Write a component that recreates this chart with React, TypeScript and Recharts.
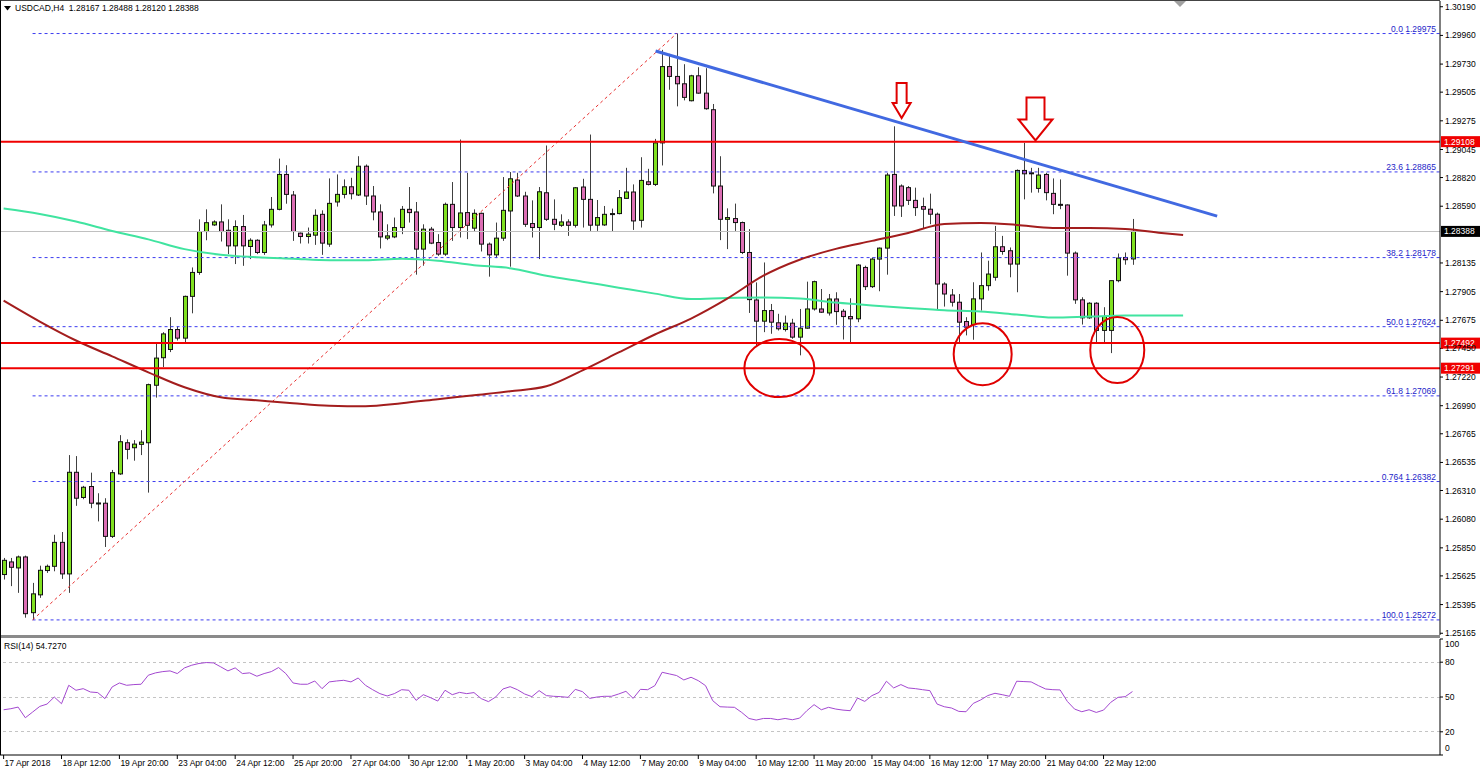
import React from "react";
import {
  ComposedChart,
  Bar,
  Line,
  XAxis,
  YAxis,
  ReferenceLine,
  ReferenceDot,
} from "recharts";

const FONT = "'Liberation Sans', Arial, sans-serif";
const SLOTS = 199;
const Y_MIN = 1.25151;
const Y_MAX = 1.30236;
const FIB_BLUE = "#3c3cf0";

// open, high, low, close  (H4 bars, 17 Apr 04:00 .. 23 May 04:00)
const candles: number[][] = [
  [1.25636, 1.25769, 1.25596, 1.2575], [1.25737, 1.25769, 1.25543, 1.25694], [1.25689, 1.25788, 1.25489, 1.25777],
  [1.25777, 1.25788, 1.2529, 1.25322], [1.2533, 1.25569, 1.25272, 1.25481], [1.25473, 1.25707, 1.25449, 1.2567],
  [1.25668, 1.25716, 1.25649, 1.25702], [1.25702, 1.25955, 1.25662, 1.25894], [1.25894, 1.25977, 1.25601, 1.25641],
  [1.25641, 1.26594, 1.25489, 1.26456], [1.26456, 1.26586, 1.26187, 1.26248], [1.26254, 1.26347, 1.2624, 1.26336],
  [1.26342, 1.26453, 1.26168, 1.26208], [1.26208, 1.26288, 1.26062, 1.2621], [1.26208, 1.26248, 1.25857, 1.25942],
  [1.25942, 1.26475, 1.25929, 1.26453], [1.26443, 1.26754, 1.26435, 1.26701], [1.26693, 1.2672, 1.2656, 1.2664],
  [1.26653, 1.26714, 1.26549, 1.26682], [1.2668, 1.26794, 1.26594, 1.26698], [1.26693, 1.27167, 1.26293, 1.27159],
  [1.27154, 1.27486, 1.27055, 1.27372], [1.27375, 1.2758, 1.273, 1.27566], [1.27441, 1.277, 1.2742, 1.27601],
  [1.27601, 1.27628, 1.27513, 1.27532], [1.27532, 1.27873, 1.27492, 1.27867], [1.27867, 1.28099, 1.27731, 1.28059],
  [1.28059, 1.28485, 1.2804, 1.28387], [1.28387, 1.28565, 1.28317, 1.28458], [1.2844, 1.28477, 1.28432, 1.28464],
  [1.28464, 1.28605, 1.28307, 1.28387], [1.28397, 1.28485, 1.28206, 1.28272], [1.28272, 1.28477, 1.28126, 1.28427],
  [1.28427, 1.2852, 1.28112, 1.28272], [1.28267, 1.28333, 1.28166, 1.28317], [1.28317, 1.28325, 1.28206, 1.28219],
  [1.28219, 1.28472, 1.282, 1.2844], [1.2844, 1.28664, 1.28419, 1.28565], [1.28565, 1.28972, 1.28557, 1.28845],
  [1.28845, 1.28919, 1.2861, 1.28685], [1.2868, 1.28712, 1.28312, 1.28387], [1.28374, 1.28379, 1.28291, 1.28347],
  [1.28347, 1.28419, 1.28291, 1.28366], [1.28358, 1.28565, 1.2828, 1.28517], [1.28525, 1.28557, 1.282, 1.28294],
  [1.28286, 1.28813, 1.28264, 1.28613], [1.28624, 1.28845, 1.28587, 1.28685], [1.28685, 1.28805, 1.28653, 1.28746],
  [1.28746, 1.28818, 1.28645, 1.2869], [1.2868, 1.28991, 1.28672, 1.28911], [1.28911, 1.28925, 1.286, 1.28672],
  [1.28672, 1.28752, 1.28477, 1.28544], [1.28544, 1.28605, 1.28251, 1.28344], [1.28334, 1.28445, 1.28318, 1.28352],
  [1.28344, 1.28499, 1.28334, 1.28419], [1.28419, 1.28592, 1.28366, 1.28565], [1.28565, 1.28744, 1.28459, 1.28539],
  [1.28544, 1.28624, 1.28041, 1.28246], [1.28246, 1.28445, 1.28113, 1.28406], [1.28406, 1.28424, 1.28286, 1.28294],
  [1.28299, 1.28366, 1.28192, 1.28206], [1.28206, 1.28619, 1.28192, 1.28605], [1.28605, 1.28784, 1.28312, 1.28419],
  [1.28419, 1.29125, 1.28339, 1.28536], [1.28539, 1.28858, 1.28326, 1.28437], [1.28414, 1.28565, 1.28384, 1.28533],
  [1.28533, 1.28539, 1.28227, 1.28286], [1.28286, 1.28299, 1.28025, 1.282], [1.282, 1.28459, 1.28174, 1.28334],
  [1.28334, 1.28824, 1.28312, 1.28557], [1.28552, 1.28864, 1.28105, 1.2881], [1.288, 1.28858, 1.28664, 1.28672],
  [1.28672, 1.28706, 1.28424, 1.28445], [1.28451, 1.28637, 1.28339, 1.28419], [1.28419, 1.28744, 1.28166, 1.28706],
  [1.28698, 1.29077, 1.28472, 1.28485], [1.28485, 1.28645, 1.28398, 1.28445], [1.28437, 1.28525, 1.28424, 1.28464],
  [1.28464, 1.28485, 1.28352, 1.28437], [1.28437, 1.28744, 1.28419, 1.28738], [1.28744, 1.2881, 1.28419, 1.28645],
  [1.28645, 1.29165, 1.28392, 1.28438], [1.28438, 1.2864, 1.28392, 1.28499], [1.2844, 1.28592, 1.28432, 1.28525],
  [1.28523, 1.28571, 1.28384, 1.28531], [1.28531, 1.2872, 1.28525, 1.28659], [1.28653, 1.28898, 1.28651, 1.28704],
  [1.28704, 1.28765, 1.284, 1.28472], [1.28477, 1.28983, 1.28419, 1.28797], [1.28786, 1.2889, 1.28757, 1.28765],
  [1.28765, 1.2913, 1.28752, 1.29098], [1.29098, 1.29844, 1.28917, 1.2971], [1.2971, 1.29812, 1.29524, 1.29631],
  [1.29631, 1.29975, 1.29391, 1.29572], [1.29572, 1.29729, 1.29439, 1.29463], [1.29436, 1.29644, 1.29431, 1.29636],
  [1.29636, 1.29705, 1.29492, 1.29497], [1.29497, 1.29697, 1.29364, 1.29372], [1.29364, 1.2941, 1.28693, 1.28752],
  [1.28752, 1.28991, 1.28318, 1.28485], [1.28485, 1.28573, 1.28246, 1.28499], [1.28491, 1.28611, 1.28392, 1.28459],
  [1.28459, 1.28467, 1.28206, 1.28219], [1.28219, 1.28406, 1.27734, 1.27841], [1.27838, 1.27979, 1.2747, 1.27668],
  [1.27668, 1.28139, 1.2758, 1.27753], [1.27753, 1.27806, 1.27567, 1.2766], [1.27655, 1.27727, 1.27593, 1.27607],
  [1.27601, 1.27713, 1.27585, 1.27652], [1.27652, 1.27687, 1.27527, 1.2754], [1.2754, 1.27766, 1.27394, 1.27612],
  [1.27612, 1.27985, 1.27607, 1.27766], [1.27766, 1.27993, 1.27753, 1.27985], [1.27766, 1.27926, 1.27734, 1.2774],
  [1.27734, 1.27886, 1.27713, 1.27846], [1.27846, 1.279, 1.27639, 1.27745], [1.27748, 1.27766, 1.27521, 1.27705],
  [1.27705, 1.27852, 1.27495, 1.27687], [1.27687, 1.28126, 1.2766, 1.28118], [1.28099, 1.28113, 1.27918, 1.27945],
  [1.27945, 1.28179, 1.27934, 1.28166], [1.28166, 1.28259, 1.27908, 1.28254], [1.28254, 1.28858, 1.28041, 1.2884],
  [1.28845, 1.29231, 1.28512, 1.28592], [1.28752, 1.28765, 1.28504, 1.28592], [1.28739, 1.28752, 1.286, 1.28637],
  [1.28637, 1.28739, 1.28512, 1.28579], [1.28587, 1.28659, 1.28414, 1.28566], [1.28566, 1.28691, 1.28446, 1.28526],
  [1.28526, 1.28539, 1.27759, 1.27966], [1.27966, 1.2798, 1.27785, 1.27886], [1.27878, 1.27926, 1.27785, 1.2782],
  [1.2782, 1.27886, 1.27492, 1.2766], [1.27665, 1.277, 1.27554, 1.2762], [1.27641, 1.2798, 1.27519, 1.27847],
  [1.27847, 1.28219, 1.27753, 1.27953], [1.27953, 1.28153, 1.27913, 1.28046], [1.2802, 1.28432, 1.27993, 1.28265],
  [1.28265, 1.28352, 1.28201, 1.28227], [1.28233, 1.28259, 1.2802, 1.28126], [1.28126, 1.28885, 1.279, 1.28877],
  [1.28877, 1.29098, 1.28645, 1.2885], [1.28858, 1.28898, 1.28699, 1.2885], [1.28733, 1.28898, 1.28699, 1.2884],
  [1.28845, 1.28858, 1.28637, 1.28699], [1.28693, 1.28813, 1.28526, 1.28605], [1.28605, 1.28805, 1.28566, 1.286],
  [1.286, 1.28605, 1.28033, 1.28214], [1.28214, 1.28227, 1.27807, 1.27839], [1.27839, 1.2786, 1.27641, 1.27695],
  [1.27695, 1.2782, 1.27687, 1.27812], [1.27812, 1.2782, 1.27492, 1.27594], [1.27594, 1.2778, 1.27492, 1.27705],
  [1.27594, 1.27993, 1.27412, 1.27993], [1.27993, 1.28211, 1.2798, 1.28174], [1.28179, 1.28219, 1.28121, 1.28161],
  [1.28167, 1.28488, 1.2812, 1.28388],
];

// moving averages, read every 5 bars (they run 7 bars past the last candle)
const maIndex = [0, 5, 10, 15, 20, 25, 30, 35, 40, 45, 50, 55, 60, 65, 70, 75, 80, 85, 90, 95, 100, 105, 110, 115, 120, 125, 130, 135, 140, 145, 150, 155, 160, 163];
const maRed = [1.27833, 1.27665, 1.27513, 1.27386, 1.27258, 1.27138, 1.27058, 1.27034, 1.2701, 1.2699, 1.26986, 1.2701, 1.27042, 1.27074, 1.27106, 1.27146, 1.27274, 1.27417, 1.27561, 1.27689, 1.27849, 1.28033, 1.28161, 1.28248, 1.28312, 1.28376, 1.28448, 1.28456, 1.2844, 1.28416, 1.28416, 1.28408, 1.28376, 1.2836];
const maGreen = [1.28572, 1.28528, 1.28468, 1.28392, 1.28324, 1.28246, 1.282, 1.28181, 1.28169, 1.28157, 1.28157, 1.28169, 1.28153, 1.28117, 1.28093, 1.28033, 1.27985, 1.27937, 1.27889, 1.27845, 1.27853, 1.27857, 1.27849, 1.27817, 1.27793, 1.27773, 1.27755, 1.27745, 1.27721, 1.27697, 1.27705, 1.27713, 1.27713, 1.27713];

const rsi = [
  39.0, 39.9, 41.3, 32.1, 37.0, 41.9, 43.9, 50.0, 44.2, 60.1,
  55.8, 57.2, 54.3, 53.8, 48.6, 58.7, 62.1, 60.1, 60.7, 61.0,
  68.8, 70.8, 71.9, 72.5, 70.2, 75.1, 77.4, 78.9, 79.7, 79.4,
  76.0, 72.5, 75.1, 70.2, 70.8, 67.9, 70.2, 71.9, 75.4, 70.2,
  62.1, 61.0, 61.0, 63.8, 57.2, 63.0, 63.8, 64.4, 63.0, 66.4,
  60.1, 56.3, 52.9, 50.9, 52.9, 56.3, 55.8, 47.1, 52.0, 49.4,
  46.5, 55.8, 52.0, 54.0, 52.9, 53.8, 48.6, 46.0, 50.0, 56.9,
  58.9, 56.3, 52.6, 50.3, 55.5, 51.2, 50.6, 50.3, 49.7, 56.6,
  54.6, 48.8, 50.0, 50.6, 50.6, 52.6, 54.9, 48.8, 56.6, 56.3,
  59.8, 71.3, 69.9, 68.5, 64.7, 67.0, 64.1, 59.8, 46.8, 41.6,
  41.3, 41.1, 36.7, 31.5, 30.1, 31.5, 31.5, 30.4, 31.5, 30.4,
  31.8, 38.2, 43.4, 39.0, 41.1, 39.6, 38.7, 38.2, 49.1, 46.2,
  51.2, 54.0, 63.6, 57.8, 60.7, 57.8, 57.2, 56.3, 55.5, 43.9,
  41.6, 40.5, 37.6, 37.3, 44.5, 47.4, 51.2, 53.2, 52.0, 50.6,
  63.6, 63.3, 63.0, 59.8, 56.9, 56.3, 56.1, 46.2, 39.6, 37.3,
  39.0, 36.7, 38.7, 45.4, 49.7, 50.3, 54.7,
];

const priceTicks = [1.3019, 1.2996, 1.2973, 1.29505, 1.29275, 1.29045, 1.2882, 1.2859, 1.28135, 1.27905, 1.27675, 1.2745, 1.2722, 1.2699, 1.26765, 1.26535, 1.2631, 1.2608, 1.2585, 1.25625, 1.25395, 1.25165];
const rsiTicks = [0, 20, 50, 80, 100];
const timeLabels = ["17 Apr 2018", "18 Apr 12:00", "19 Apr 20:00", "23 Apr 04:00", "24 Apr 12:00", "25 Apr 20:00", "27 Apr 04:00", "30 Apr 12:00", "1 May 20:00", "3 May 04:00", "4 May 12:00", "7 May 20:00", "9 May 04:00", "10 May 12:00", "11 May 20:00", "15 May 04:00", "16 May 12:00", "17 May 20:00", "21 May 04:00", "22 May 12:00"];
const timeTicks = timeLabels.map((_, k) => k * 8);

const fibNames = ["0.0", "23.6", "38.2", "50.0", "61.8", "0.764", "100.0"];
const fibLevels = [1.29975, 1.28865, 1.28178, 1.27624, 1.27069, 1.26382, 1.25272];
const fibFrom = 4;
const swingLow = { i: 4, p: 1.25272 };
const swingHigh = { i: 93, p: 1.29975 };
const redLevels = [1.29108, 1.27492, 1.27291];
const lastPrice = 1.28388;
const trendFrom = { i: 90.1, p: 1.29835 };
const trendTo = { i: 167.7, p: 1.28511 };
const circles = [
  { i: 107.2, p: 1.27292, rx: 35, ry: 29 },
  { i: 135.3, p: 1.27403, rx: 29, ry: 31 },
  { i: 153.9, p: 1.27437, rx: 27, ry: 33 },
];
const arrows = [
  { i: 124.1, p: 1.29297, len: 35, head: 15, hw: 18, sw: 10 },
  { i: 142.6, p: 1.29118, len: 43, head: 21, hw: 34, sw: 18 },
];

const rows = Array.from({ length: SLOTS }, (_, i) => {
  const c = candles[i];
  const k = maIndex.indexOf(i);
  return {
    i,
    range: c ? [c[2], c[1]] : null,
    o: c ? c[0] : null,
    h: c ? c[1] : null,
    l: c ? c[2] : null,
    c: c ? c[3] : null,
    red: k >= 0 ? maRed[k] : null,
    green: k >= 0 ? maGreen[k] : null,
  };
});
const rsiRows = rsi.map((v, i) => ({ i, v }));

const txt = { fontFamily: FONT, fontSize: 8.5 };

function Candle(props: any) {
  const { x, y, width, height, payload } = props;
  if (!payload || payload.o == null) return null;
  const { o, h, l, c } = payload;
  const top = Math.min(y, y + height);
  const bot = Math.max(y, y + height);
  const k = h > l ? (bot - top) / (h - l) : 0;
  const yo = top + (h - o) * k;
  const yc = top + (h - c) * k;
  const cx = Math.round(x + width / 2) + 0.5;
  const bt = Math.min(yo, yc);
  const bh = Math.max(Math.abs(yo - yc), 1);
  return (
    <g>
      <line x1={cx} x2={cx} y1={top} y2={bot} stroke="#404040" strokeWidth={1} />
      <rect x={cx - 2} y={bt} width={4} height={bh} fill={c >= o ? "#80e020" : "#dc6eb4"} stroke="#111" strokeWidth={1} />
    </g>
  );
}

const axisBox = (value: number, bg: string) => (p: any) => (
  <g>
    <rect x={p.cx + 1} y={p.cy - 5.5} width={39} height={11} fill={bg} />
    <text x={p.cx + 4} y={p.cy + 3} fill="#fff" style={txt}>{value.toFixed(5)}</text>
  </g>
);

function TimeTick(props: any) {
  const { x, y, payload } = props;
  const label = timeLabels[Math.round(payload.value / 8)];
  return (
    <text x={x + 1} y={y + 3} fill="#000" style={txt}>{label}</text>
  );
}

function RsiTick(props: any) {
  const { x, y, payload } = props;
  const v = payload.value;
  const dy = v === 100 ? 5 : v === 0 ? -7 : 0;
  return (
    <text x={x} y={y + dy + 3} fill="#000" style={txt}>{v}</text>
  );
}

export default function App() {
  return (
    <div style={{ position: "absolute", left: 0, top: 0, width: 1480, height: 772, background: "#fff", overflow: "hidden" }}>
      <div style={{ position: "absolute", left: 0, top: 636 }}>
        <ComposedChart width={1480} height={136} data={rsiRows} margin={{ top: 3, right: 0, bottom: 0, left: 0 }}>
          <XAxis
            dataKey="i"
            type="number"
            domain={[-0.5, SLOTS - 0.5]}
            allowDataOverflow
            ticks={timeTicks}
            interval={0}
            height={17}
            tickSize={4}
            tickMargin={4}
            axisLine={{ stroke: "#000" }}
            tickLine={{ stroke: "#000" }}
            tick={<TimeTick />}
          />
          <YAxis
            orientation="right"
            width={40}
            domain={[0, 100]}
            allowDataOverflow
            ticks={rsiTicks}
            interval={0}
            tickSize={3}
            tickMargin={2}
            axisLine={{ stroke: "#000" }}
            tickLine={{ stroke: "#000" }}
            tick={<RsiTick />}
          />
          {[20, 50, 80].map((v) => (
            <ReferenceLine key={v} y={v} stroke="#c4c4c4" strokeDasharray="3 3" shapeRendering="crispEdges" />
          ))}
          <Line dataKey="v" type="linear" stroke="#a348d0" strokeWidth={1} dot={false} isAnimationActive={false} />
        </ComposedChart>
      </div>

      <div style={{ position: "absolute", left: 0, top: 635, width: 1440, height: 3, background: "#8a8a8a" }} />

      <div style={{ position: "absolute", left: 0, top: 0 }}>
        <ComposedChart width={1480} height={640} data={rows} margin={{ top: 1, right: 0, bottom: 5, left: 0 }}>
          <XAxis dataKey="i" hide scale="band" />
          <XAxis xAxisId="n" type="number" dataKey="i" domain={[-0.5, SLOTS - 0.5]} hide allowDataOverflow />
          <YAxis
            orientation="right"
            width={40}
            domain={[Y_MIN, Y_MAX]}
            allowDataOverflow
            ticks={priceTicks}
            interval={0}
            tickSize={3}
            tickMargin={2}
            axisLine={{ stroke: "#000" }}
            tickLine={{ stroke: "#000" }}
            tick={{ fontSize: 8.5, fill: "#000", fontFamily: FONT }}
            tickFormatter={(v: number) => v.toFixed(5)}
          />
          {fibLevels.map((p) => (
            <ReferenceLine
              key={"f" + p}
              xAxisId="n"
              segment={[{ x: fibFrom, y: p }, { x: SLOTS - 0.5, y: p }]}
              stroke={FIB_BLUE}
              strokeDasharray="3 3"
            />
          ))}
          <ReferenceLine
            xAxisId="n"
            segment={[{ x: swingLow.i, y: swingLow.p }, { x: swingHigh.i, y: swingHigh.p }]}
            stroke="#e83030"
            strokeDasharray="3 3"
          />
          <ReferenceLine y={lastPrice} stroke="#c0c0c0" shapeRendering="crispEdges" />
          <Bar dataKey="range" shape={Candle} isAnimationActive={false} />
          <Line dataKey="green" type="monotone" stroke="#40e4a0" strokeWidth={2} dot={false} connectNulls isAnimationActive={false} />
          <Line dataKey="red" type="monotone" stroke="#a31d1d" strokeWidth={2} dot={false} connectNulls isAnimationActive={false} />
          {redLevels.map((p) => (
            <ReferenceLine key={"r" + p} y={p} stroke="#f00000" strokeWidth={2} />
          ))}
          <ReferenceLine
            xAxisId="n"
            segment={[{ x: trendFrom.i, y: trendFrom.p }, { x: trendTo.i, y: trendTo.p }]}
            stroke="#4169e1"
            strokeWidth={3}
          />
          {circles.map((c) => (
            <ReferenceDot
              key={"c" + c.i}
              xAxisId="n"
              x={c.i}
              y={c.p}
              ifOverflow="visible"
              shape={(p: any) => (
                <ellipse cx={p.cx} cy={p.cy} rx={c.rx} ry={c.ry} fill="none" stroke="#e00000" strokeWidth={2} />
              )}
            />
          ))}
          {arrows.map((a) => (
            <ReferenceDot
              key={"a" + a.i}
              xAxisId="n"
              x={a.i}
              y={a.p}
              ifOverflow="visible"
              shape={(p: any) => {
                const { cx, cy } = p;
                const d = `M${cx - a.sw / 2},${cy - a.len} L${cx + a.sw / 2},${cy - a.len} L${cx + a.sw / 2},${cy - a.head} L${cx + a.hw / 2},${cy - a.head} L${cx},${cy} L${cx - a.hw / 2},${cy - a.head} L${cx - a.sw / 2},${cy - a.head} Z`;
                return <path d={d} fill="#fff" stroke="#e00000" strokeWidth={2} strokeLinejoin="miter" />;
              }}
            />
          ))}
          {fibLevels.map((p, k) => (
            <ReferenceDot
              key={"fl" + p}
              xAxisId="n"
              x={SLOTS - 0.5}
              y={p}
              ifOverflow="visible"
              shape={(q: any) => (
                <text x={q.cx - 4} y={q.cy - 2} textAnchor="end" fill="#2424c8" style={txt}>
                  {fibNames[k] + " " + p.toFixed(5)}
                </text>
              )}
            />
          ))}
          {redLevels.map((p) => (
            <ReferenceDot key={"rl" + p} xAxisId="n" x={SLOTS - 0.5} y={p} ifOverflow="visible" shape={axisBox(p, "#f00000")} />
          ))}
          <ReferenceDot xAxisId="n" x={SLOTS - 0.5} y={lastPrice} ifOverflow="visible" shape={axisBox(lastPrice, "#000")} />
        </ComposedChart>
      </div>

      {/* frame, chart-shift marker, captions */}
      <div style={{ position: "absolute", left: 0, top: 0, width: 1440, height: 755, borderLeft: "1px solid #000", borderTop: "1px solid #444", boxSizing: "border-box", pointerEvents: "none" }} />
      <svg style={{ position: "absolute", left: 1174, top: 1 }} width={12} height={7}>
        <polygon points="0,0 12,0 6,6" fill="#a0a0a0" />
      </svg>
      <svg style={{ position: "absolute", left: 4, top: 6 }} width={7} height={5}>
        <polygon points="0,0 7,0 3.5,4.5" fill="#000" />
      </svg>
      <div style={{ position: "absolute", left: 15, top: 3, ...txt, whiteSpace: "pre", color: "#000" }}>
        {"USDCAD,H4  1.28167 1.28488 1.28120 1.28388"}
      </div>
      <div style={{ position: "absolute", left: 4, top: 641, ...txt, whiteSpace: "pre", color: "#000" }}>
        {"RSI(14) 54.7270"}
      </div>
    </div>
  );
}
